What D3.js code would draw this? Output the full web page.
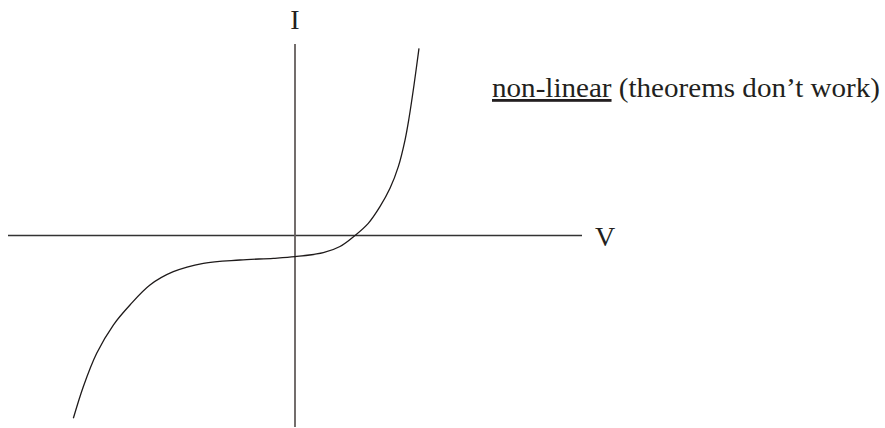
<!DOCTYPE html>
<html lang="en">
<head>
    <meta charset="UTF-8">
    <title>I-V curve</title>
    <script src="https://d3js.org/d3.v7.min.js"></script>
    <style>
        body {
            margin: 0;
            background: #fff;
        }
        svg text {
            font-family: "Liberation Serif", "Times New Roman", serif;
            fill: #231f20;
        }
    </style>
</head>
<body>
    <div id="chart"></div>
    <script>
        // curve (V, I in arbitrary units)
        const voltage = [-2.317, -2.213, -2.073, -1.899, -1.725, -1.516, -1.272, -0.958, -0.575, -0.227,
                         0, 0.296, 0.470, 0.627, 0.766, 0.888, 0.993, 1.080, 1.150, 1.192, 1.244, 1.296];
        const current = [-1.909, -1.579, -1.230, -0.935, -0.726, -0.517, -0.378, -0.290, -0.256, -0.238,
                         -0.221, -0.180, -0.115, 0, 0.127, 0.301, 0.493, 0.719, 0.997, 1.227, 1.572, 1.955];
        const axisLabels = ["V", "I"];
        const note = ["non-linear", " (theorems don\u2019t work)"];

        const width = 885, height = 428;

        const svg = d3.select("#chart").append("svg")
            .attr("width", width)
            .attr("height", height);

        const x = d3.scaleLinear().domain([-3, 3]).range([8, 582]);
        const y = d3.scaleLinear().domain([-2, 2]).range([427, 44]);

        // axes
        svg.append("line")
            .attr("x1", x(-3)).attr("x2", x(3))
            .attr("y1", y(0)).attr("y2", y(0))
            .attr("stroke", "#333")
            .attr("stroke-width", 1.3);

        svg.append("line")
            .attr("x1", x(0)).attr("x2", x(0))
            .attr("y1", y(2)).attr("y2", y(-2))
            .attr("stroke", "#645e5c")
            .attr("stroke-width", 1.8);

        svg.append("text")
            .attr("x", x(3) + 23)
            .attr("y", y(0) + 10)
            .attr("text-anchor", "middle")
            .attr("font-size", 28)
            .text(axisLabels[0]);

        svg.append("text")
            .attr("x", x(0))
            .attr("y", 29)
            .attr("text-anchor", "middle")
            .attr("font-size", 28)
            .text(axisLabels[1]);

        const pts = voltage.map((v, i) => [v, current[i]]);
        const line = d3.line()
            .x(d => x(d[0]))
            .y(d => y(d[1]))
            .curve(d3.curveCatmullRom.alpha(0.5));

        svg.append("path")
            .datum(pts)
            .attr("d", line)
            .attr("fill", "none")
            .attr("stroke", "#1e1a1a")
            .attr("stroke-width", 1.3);

        const t = svg.append("text")
            .attr("x", 492)
            .attr("y", 97)
            .attr("font-size", 28)
            .attr("textLength", 388)
            .attr("lengthAdjust", "spacingAndGlyphs");
        t.append("tspan")
            .attr("text-decoration", "underline")
            .text(note[0]);
        t.append("tspan").text(note[1]);
    </script>
</body>
</html>
